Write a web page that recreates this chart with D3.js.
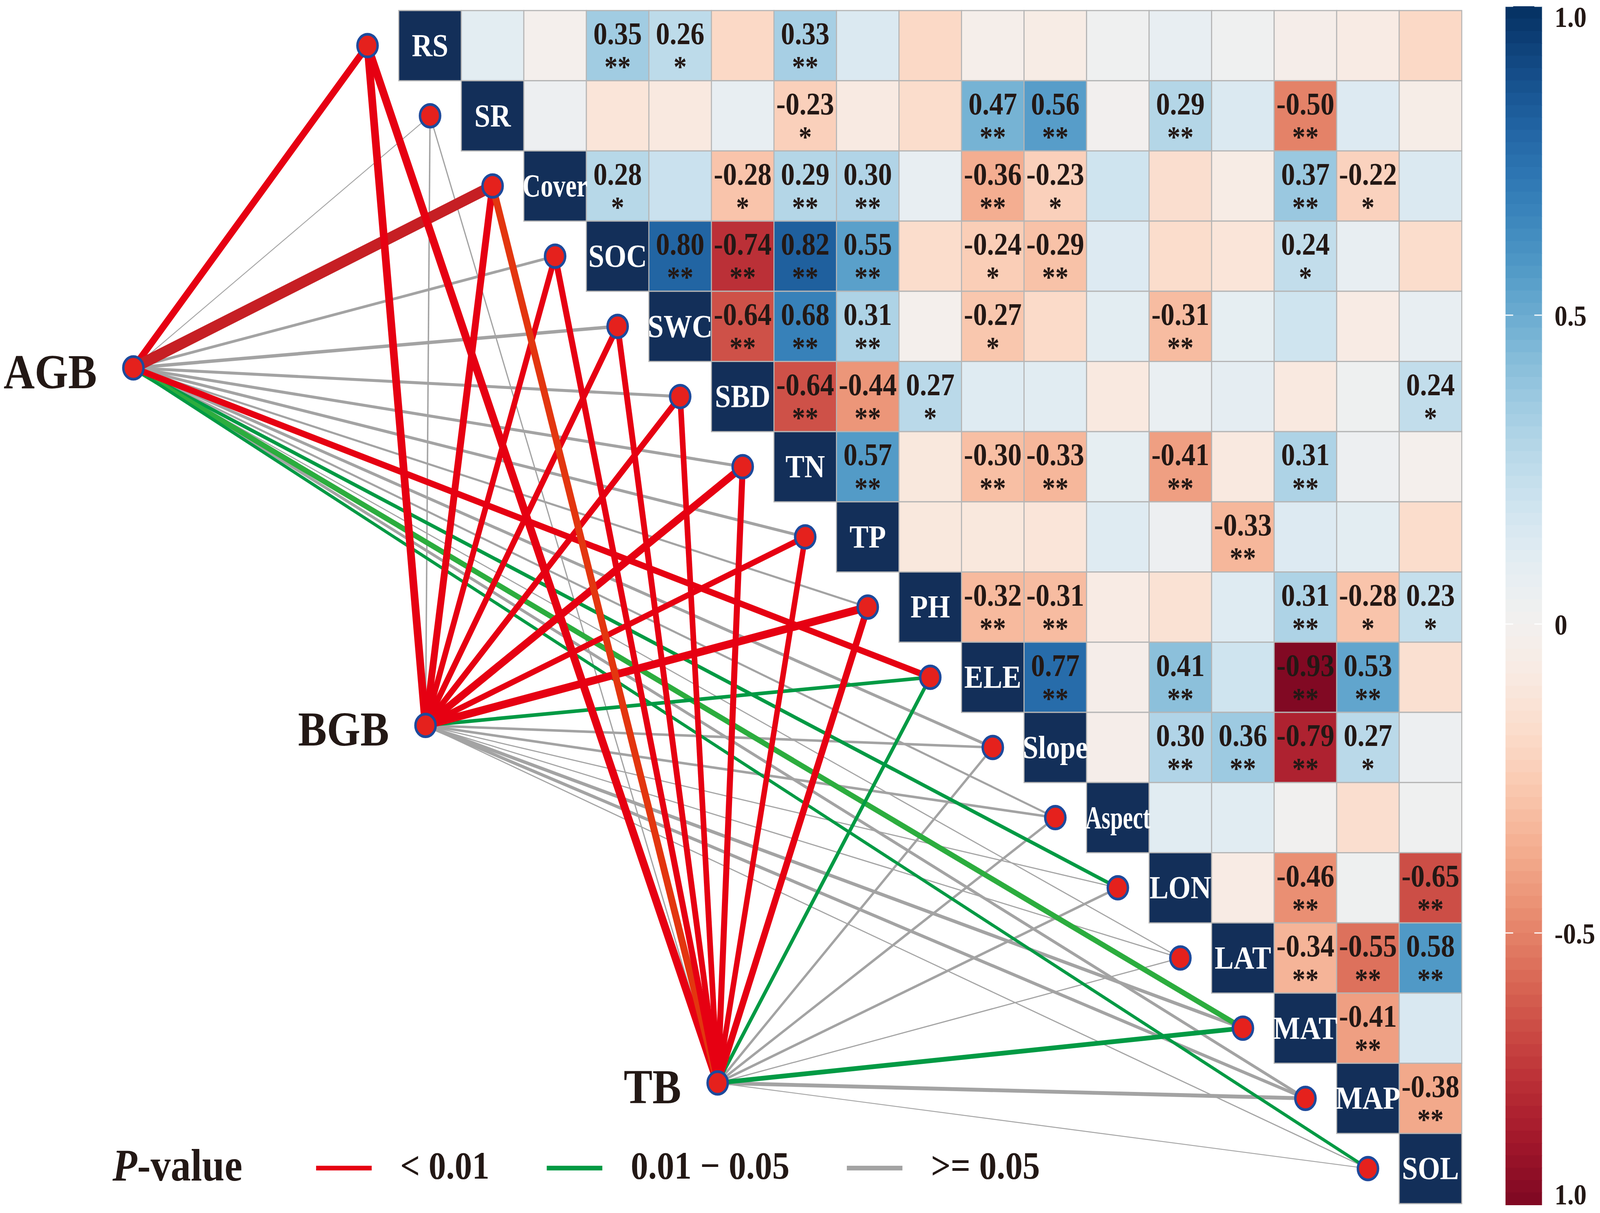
<!DOCTYPE html>
<html>
<head>
<meta charset="utf-8">
<title>Mantel test network with correlation heatmap</title>
<script src="https://d3js.org/d3.v7.min.js"></script>
<style>
  html, body { margin: 0; padding: 0; background: #fff; overflow: hidden; }
  #chart svg { display: block; width: 100vw; height: 100vh; }
  svg text { font-family: "Liberation Serif", "DejaVu Serif", serif; font-weight: bold; }
</style>
</head>
<body>
<div id="chart"></div>
<script>
// ---- data ----
const variables = ["RS","SR","Cover","SOC","SWC","SBD","TN","TP","PH","ELE","Slope","Aspect","LON","LAT","MAT","MAP","SOL"];

// upper triangle: row i holds r(i, j) for j > i
const corrValues = [
  [0.10, -0.02, 0.35, 0.26, -0.19, 0.33, 0.14, -0.19, -0.03, -0.06, 0.02, 0.07, 0.02, -0.04, -0.07, -0.19],
  [0.04, -0.12, -0.09, 0.07, -0.23, -0.08, -0.17, 0.47, 0.56, 0.00, 0.29, 0.14, -0.50, 0.13, -0.05],
  [0.28, 0.21, -0.28, 0.29, 0.30, 0.07, -0.36, -0.23, 0.19, -0.16, -0.06, 0.37, -0.22, 0.14],
  [0.80, -0.74, 0.82, 0.55, -0.17, -0.24, -0.29, 0.13, -0.17, -0.12, 0.24, 0.07, -0.17],
  [-0.64, 0.68, 0.31, -0.02, -0.27, -0.18, 0.10, -0.31, 0.08, 0.19, -0.07, 0.07],
  [-0.64, -0.44, 0.27, 0.12, 0.11, -0.09, 0.06, 0.09, -0.09, 0.03, 0.24],
  [0.57, -0.10, -0.30, -0.33, 0.08, -0.41, -0.09, 0.31, 0.04, -0.02],
  [-0.10, -0.10, -0.12, 0.12, 0.04, -0.33, 0.13, 0.10, -0.17],
  [-0.32, -0.31, -0.07, -0.14, 0.12, 0.31, -0.28, 0.23],
  [0.77, -0.04, 0.41, 0.19, -0.93, 0.53, -0.15],
  [-0.04, 0.30, 0.36, -0.79, 0.27, 0.04],
  [0.11, 0.11, 0.01, -0.16, 0.02],
  [-0.07, -0.46, 0.03, -0.65],
  [-0.34, -0.55, 0.58],
  [-0.41, 0.15],
  [-0.38]
];
const corrStars = [
  ["", "", "**", "*", "", "**", "", "", "", "", "", "", "", "", "", ""],
  ["", "", "", "", "*", "", "", "**", "**", "", "**", "", "**", "", ""],
  ["*", "", "*", "**", "**", "", "**", "*", "", "", "", "**", "*", ""],
  ["**", "**", "**", "**", "", "*", "**", "", "", "", "*", "", ""],
  ["**", "**", "**", "", "*", "", "", "**", "", "", "", ""],
  ["**", "**", "*", "", "", "", "", "", "", "", "*"],
  ["**", "", "**", "**", "", "**", "", "**", "", ""],
  ["", "", "", "", "", "**", "", "", ""],
  ["**", "**", "", "", "", "**", "*", "*"],
  ["**", "", "**", "", "**", "**", ""],
  ["", "**", "**", "**", "*", ""],
  ["", "", "", "", ""],
  ["", "**", "", "**"],
  ["**", "**", "**"],
  ["**", ""],
  ["**"]
];

// Mantel links: r and p-class for each hub, in the order of `variables`
const hubs = ["AGB", "BGB", "TB"];
const agbR = [0.30, 0.02, 0.48, 0.10, 0.13, 0.11, 0.11, 0.11, 0.07, 0.26, 0.11, 0.07, 0.14, 0.03, 0.22, 0.11, 0.12];
const bgbR = [0.36, 0.05, 0.32, 0.26, 0.26, 0.26, 0.32, 0.24, 0.33, 0.14, 0.09, 0.09, 0.03, 0.03, 0.13, 0.12, 0.03];
const tbR  = [0.36, 0.04, 0.32, 0.28, 0.27, 0.26, 0.28, 0.25, 0.30, 0.15, 0.09, 0.09, 0.09, 0.03, 0.19, 0.15, 0.02];
const agbP = ["<0.01", ">=0.05", "<0.01", ">=0.05", ">=0.05", ">=0.05", ">=0.05", ">=0.05", ">=0.05", "<0.01", ">=0.05", ">=0.05", "0.01-0.05", ">=0.05", "0.01-0.05", ">=0.05", "0.01-0.05"];
const bgbP = ["<0.01", ">=0.05", "<0.01", "<0.01", "<0.01", "<0.01", "<0.01", "<0.01", "<0.01", "0.01-0.05", ">=0.05", ">=0.05", ">=0.05", ">=0.05", ">=0.05", ">=0.05", ">=0.05"];
const tbP  = ["<0.01", ">=0.05", "<0.01", "<0.01", "<0.01", "<0.01", "<0.01", "<0.01", "<0.01", "0.01-0.05", ">=0.05", ">=0.05", ">=0.05", ">=0.05", "0.01-0.05", ">=0.05", ">=0.05"];

const pClasses = ["<0.01", "0.01-0.05", ">=0.05"];
const pLabels = ["< 0.01", "0.01 \u2212 0.05", ">= 0.05"];
const colorTicks = [1, 0.5, 0, -0.5];
const colorTickLabels = ["1.0", "0.5", "0", "-0.5"];
const colorEndLabel = "1.0";
const colorDomain = [1, -0.94];

// ---- drawing ----
const W = 4606, H = 3106;
const svg = d3.select("#chart").append("svg")
  .attr("viewBox", `0 0 ${W} ${H}`)
  .attr("preserveAspectRatio", "none");

const xBand = d3.scaleBand().domain(variables).range([1148, 4208]);
const yBand = d3.scaleBand().domain(variables).range([27, 3082]);
const cw = xBand.bandwidth(), ch = yBand.bandwidth();
const fill = v => d3.interpolateRdBu((v + 1) / 2);

const pColor = d3.scaleOrdinal().domain(pClasses).range(["#e60012", "#009a44", "#a3a3a3"]);
const widthScale = d3.scaleLinear().domain([0, 0.6]).range([1.2, 36]);
// a few links are drawn in a different tint in the original
const tint = { "AGB-Cover": "#c61f24", "TB-Cover": "#e3360f", "AGB-MAT": "#2cad3e" };

const hubX = d3.scalePoint().domain(hubs).range([384, 2066]);
const hubY = d3.scalePoint().domain(hubs).range([942, 2773]);
const nodeX = v => xBand(v) - 90;
const nodeY = v => yBand(v) + ch / 2;

// links
const hubR = [agbR, bgbR, tbR], hubP = [agbP, bgbP, tbP];
const links = [];
hubs.forEach((h, k) => variables.forEach((v, i) => {
  links.push({ hub: h, v: v, r: hubR[k][i], p: hubP[k][i] });
}));
const order = { ">=0.05": 0, "0.01-0.05": 1, "<0.01": 2 };
links.sort((a, b) => order[a.p] - order[b.p]);

svg.append("g").selectAll("line")
  .data(links)
  .enter().append("line")
  .attr("x1", d => hubX(d.hub)).attr("y1", d => hubY(d.hub))
  .attr("x2", d => nodeX(d.v)).attr("y2", d => nodeY(d.v))
  .attr("stroke", d => tint[d.hub + "-" + d.v] || pColor(d.p))
  .attr("stroke-width", d => widthScale(d.r));

// heatmap cells
const cells = [];
variables.forEach((a, i) => {
  cells.push({ row: a, col: a, diag: true });
  corrValues[i] && corrValues[i].forEach((r, k) => {
    cells.push({ row: a, col: variables[i + 1 + k], r: r, star: corrStars[i][k] });
  });
});

const cg = svg.append("g");
cg.selectAll("rect")
  .data(cells)
  .enter().append("rect")
  .attr("x", d => xBand(d.col)).attr("y", d => yBand(d.row))
  .attr("width", cw).attr("height", ch)
  .attr("fill", d => d.diag ? "#132f59" : fill(d.r))
  .attr("stroke", "#b5b5b5").attr("stroke-width", 3);

const sig = cells.filter(d => !d.diag && d.star !== "");
cg.selectAll("text.num")
  .data(sig)
  .enter().append("text")
  .attr("class", "num")
  .attr("x", d => xBand(d.col) + cw / 2)
  .attr("y", d => yBand(d.row) + ch * 0.48)
  .attr("text-anchor", "middle")
  .attr("font-size", 80)
  .attr("fill", "#231815")
  .text(d => d3.format(".2f")(d.r).replace("\u2212", "-"));

cg.selectAll("text.star")
  .data(sig)
  .enter().append("text")
  .attr("class", "star")
  .attr("x", d => xBand(d.col) + cw / 2)
  .attr("y", d => yBand(d.row) + ch * 0.72 + 40)
  .attr("text-anchor", "middle")
  .attr("font-size", 76)
  .attr("fill", "#231815")
  .text(d => d.star);

cg.selectAll("text.lab")
  .data(cells.filter(d => d.diag))
  .enter().append("text")
  .attr("class", "lab")
  .attr("x", d => xBand(d.col) + cw / 2)
  .attr("y", d => yBand(d.row) + ch / 2 + 27)
  .attr("text-anchor", "middle")
  .attr("font-size", 82)
  .attr("fill", "#fff")
  .text(d => d.row)
  .each(function() {
    if (this.getComputedTextLength() > cw * 1.04) {
      d3.select(this).attr("textLength", cw * 1.04).attr("lengthAdjust", "spacingAndGlyphs");
    }
  });

// variable nodes
svg.append("g").selectAll("circle")
  .data(variables)
  .enter().append("circle")
  .attr("cx", nodeX).attr("cy", nodeY)
  .attr("r", 29)
  .attr("fill", "#e5211d").attr("stroke", "#1d4a9c").attr("stroke-width", 7);

// hub nodes + labels
const hg = svg.append("g");
hg.selectAll("circle")
  .data(hubs)
  .enter().append("circle")
  .attr("cx", hubX).attr("cy", hubY)
  .attr("r", 29)
  .attr("fill", "#e5211d").attr("stroke", "#1d4a9c").attr("stroke-width", 7);
hg.selectAll("text")
  .data(hubs)
  .enter().append("text")
  .attr("x", d => hubX(d) - 105)
  .attr("y", d => hubY(d) + 52)
  .attr("text-anchor", "end")
  .attr("font-size", 124)
  .attr("fill", "#231815")
  .text(d => d);

// colour bar
const cbX = 4334, cbW = 105;
const cbY = d3.scaleLinear().domain(colorDomain).range([16, 3085]);
const bands = d3.range(colorDomain[0], colorDomain[1], -0.02);
const cb = svg.append("g");
cb.selectAll("rect")
  .data(bands)
  .enter().append("rect")
  .attr("x", cbX).attr("width", cbW)
  .attr("y", d => cbY(d))
  .attr("height", d => cbY(Math.max(d - 0.02, colorDomain[1])) - cbY(d) + 1)
  .attr("fill", d => fill(d - 0.01));
colorTicks.forEach(t => {
  [cbX, cbX + cbW - 22].forEach(x0 => {
    cb.append("line")
      .attr("x1", x0).attr("x2", x0 + 22)
      .attr("y1", cbY(t)).attr("y2", cbY(t))
      .attr("stroke", "#fff").attr("stroke-width", 3);
  });
});
cb.selectAll("text")
  .data(colorTicks)
  .enter().append("text")
  .attr("x", 4475)
  .attr("y", (d, i) => Math.max(cbY(d), 42) + 27)
  .attr("font-size", 74)
  .attr("fill", "#231815")
  .text((d, i) => colorTickLabels[i]);
cb.append("text")
  .attr("x", 4475)
  .attr("y", 3084)
  .attr("font-size", 74)
  .attr("fill", "#231815")
  .text(colorEndLabel);

// legend
const lg = svg.append("g");
const title = lg.append("text")
  .attr("x", 324).attr("y", 3023)
  .attr("font-size", 116)
  .attr("fill", "#231815");
title.append("tspan").attr("font-style", "italic").text("P");
title.append("tspan").text("-value");

let lx = 910;
pClasses.forEach((p, i) => {
  lg.append("line")
    .attr("x1", lx).attr("x2", lx + 160)
    .attr("y1", 2991).attr("y2", 2991)
    .attr("stroke", pColor(p)).attr("stroke-width", 12);
  const t = lg.append("text")
    .attr("x", lx + 242).attr("y", 3018)
    .attr("font-size", 100)
    .attr("fill", "#231815")
    .text(pLabels[i]);
  lx = lx + 242 + t.node().getComputedTextLength() + 165;
});
</script>
</body>
</html>
